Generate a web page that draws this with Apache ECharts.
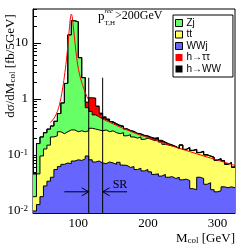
<!DOCTYPE html>
<html><head><meta charset="utf-8">
<script src="https://cdn.jsdelivr.net/npm/echarts@6/dist/echarts.min.js"></script>
<style>html,body{margin:0;padding:0;background:#fff}#c{width:248px;height:249px}</style>
</head><body><div id="c"></div>
<script>
// ---- data (fb / 5 GeV), 5 GeV bins, low edges ----
const binLow = [35,40,45,50,55,60,65,70,75,80,85,90,95,100,105,110,115,120,125,130,135,140,145,150,155,160,165,170,175,180,185,190,195,200,205,210,215,220,225,230,235,240,245,250,255,260,265,270,275,280,285,290,295,300,305,310,315,320];
const binWidth = 5;
const wwj = [0.010,0.013,0.018,0.028,0.034,0.040,0.055,0.062,0.068,0.072,
 0.070,0.078,0.082,0.080,0.085,0.096,0.082,0.075,0.078,0.072,
 0.070,0.075,0.072,0.068,0.074,0.066,0.065,0.060,0.062,0.055,
 0.058,0.052,0.055,0.050,0.045,0.046,0.042,0.045,0.040,0.041,
 0.038,0.040,0.036,0.037,0.035,0.025,0.024,0.040,0.038,0.030,
 0.032,0.024,0.022,0.023,0.027,0.026,0.027,0.026];
const ttbar = [0.008,0.033,0.078,0.100,0.116,0.170,0.165,0.198,0.172,0.188,
 0.210,0.202,0.178,0.190,0.175,0.174,0.218,0.215,0.202,0.198,
 0.210,0.185,0.198,0.182,0.166,0.184,0.155,0.170,0.148,0.145,
 0.152,0.138,0.145,0.140,0.135,0.144,0.128,0.110,0.110,0.104,
 0.102,0.090,0.114,0.088,0.100,0.095,0.101,0.070,0.077,0.070,
 0.063,0.066,0.058,0.062,0.051,0.042,0.045,0.034];
const zj = [0.028,0.114,0.114,0.122,0.14,0.12,0.18,0.29,0.61,1.64,
 13.7,24.7,23.7,5.2,2.14,0.43,0.30,0.23,0.20,0.18,
 0.15,0.14,0.11,0.10,0.09,0.07,0.07,0.04,0.05,0.04,
 0.025,0.03,0.015,0.01,0.01,0.005,0.005,0.01,0.005,0.003,
 0.002,0.002,0.001,0.001,0.001,0.001,0.001,0.001,0.001,0.001,
 0.001,0.001,0.001,0.001,0.001,0.001,0.001,0.001];
const hTauTau = [0,0,0,0,0,0,0,0,0,0,
 0,0,0,0,0.02,0.18,0.45,0.50,0.24,0.08,
 0.03,0.02,0,0,0,0,0,0,0,0,
 0,0,0,0,0,0,0,0,0,0,
 0,0,0,0,0,0,0,0,0,0,
 0,0,0,0,0,0,0,0];
const hWW = [0,0,0,0,0,0,0,0,0,0,
 0,0,0,0,0,0,0,0.02,0.03,0.03,
 0.02,0.02,0.015,0.015,0.01,0.01,0.005,0.005,0.005,0.005,
 0.005,0.005,0.005,0.008,0.01,0.01,0.008,0.005,0.004,0.004,
 0,0,0,0,0,0,0,0,0,0,
 0,0,0,0,0,0,0,0];
const fitX = [60,65,70,74,77,80,83,85,87,89,90,91.5,93,95,97,99,102,106,110,115,120,125,130,140,150,160,170,180,190,200,210,220,230,240,250,260,270,280,290,300,310,320,325];
const fitY = [0.38,0.45,0.6,0.9,1.4,2.5,5,9,17,30,33,28,19,11,6.5,4.2,2.7,1.8,1.3,0.95,0.75,0.6,0.48,0.41,0.36,0.315,0.28,0.25,0.225,0.205,0.185,0.167,0.152,0.138,0.126,0.115,0.105,0.096,0.088,0.081,0.074,0.068,0.065];
const xRange = [35, 325];
const yRange = [0.0092, 40.5];
const xMajorTicks = [100,200,300];
const xMinorTicks = [40,60,80,120,140,160,180,220,240,260,280,320];
const yMajorTicks = [0.01,0.1,1,10];
const yMinorTicks = [0.02,0.03,0.04,0.05,0.06,0.07,0.08,0.09,0.2,0.3,0.4,0.5,0.6,0.7,0.8,0.9,2,3,4,5,6,7,8,9,20,30,40];
const srEdges = [115, 135];
const srLineTop = 2.4;
const arrowLevel = 0.022;
const arrowTails = [80, 170];
const names = {zj:'Zj', tt:'tt', wwj:'WWj', htt:'h→ττ', hww:'h→WW'};
const colors = {zj:'#66ff66', tt:'#ffff66', wwj:'#6666ff', htt:'#ff0000', hww:'#000000'};

const serif = '"Liberation Serif", "Times New Roman", serif';
const sans = '"Liberation Sans", Arial, sans-serif';

// stacked (cumulative) heights, bottom to top
const stackOrder = [['wwj', wwj], ['tt', ttbar], ['zj', zj], ['htt', hTauTau], ['hww', hWW]];
const cumulative = {};
(function(){
  let run = binLow.map(()=>0);
  stackOrder.forEach(function(p){
    run = run.map((v,i)=>v + p[1][i]);
    cumulative[p[0]] = run.slice();
  });
})();

function steps(vals){
  const pts = binLow.map((x,i)=>[x, vals[i]]);
  pts.push([binLow[binLow.length-1]+binWidth, vals[vals.length-1]]);
  return pts;
}
function histSeries(key, outline, z){
  return {
    name: names[key], type:'line', step:'end', symbol:'none',
    data: steps(cumulative[key]), z:z,
    itemStyle:{color: colors[key]},
    lineStyle:{color: '#000', width: outline ? 1 : 0},
    areaStyle:{color: colors[key], opacity:1, origin:'start'},
    emphasis:{disabled:true}
  };
}

const chart = echarts.init(document.getElementById('c'), null, {renderer:'canvas'});
const option = {
  animation:false,
  grid:{left:33, right:13, top:9, bottom:36, show:true, borderColor:'#000', borderWidth:1, backgroundColor:'transparent'},
  xAxis:[{
    type:'value', min:xRange[0], max:xRange[1],
    axisLine:{show:true, lineStyle:{color:'#000', width:1}},
    axisTick:{show:true, inside:true, length:6, customValues:xMajorTicks, lineStyle:{color:'#000'}},
    axisLabel:{show:true, customValues:xMajorTicks, margin:4, color:'#000', fontFamily:serif, fontSize:13},
    splitLine:{show:false}
  },{
    type:'value', min:xRange[0], max:xRange[1], position:'bottom',
    axisLine:{show:false},
    axisTick:{show:true, inside:true, length:3, customValues:xMinorTicks, lineStyle:{color:'#000'}},
    axisLabel:{show:false}, splitLine:{show:false}
  }],
  yAxis:[{
    type:'log', logBase:10, min:yRange[0], max:yRange[1], position:'left',
    axisLine:{show:true, lineStyle:{color:'#000', width:1}},
    axisTick:{show:true, inside:true, length:8, customValues:yMajorTicks, lineStyle:{color:'#000'}},
    axisLabel:{show:true, customValues:yMajorTicks, margin:5, color:'#000', fontFamily:serif, fontSize:13,
      formatter:function(v){
        const e = Math.round(Math.log10(v));
        if (e === 0) return '{b|1}';
        if (e === 1) return '{b|10}';
        return '{b|10}{s|' + e + '}';
      },
      rich:{b:{fontFamily:serif, fontSize:13, color:'#000'}, s:{fontFamily:serif, fontSize:9, color:'#000', verticalAlign:'top', lineHeight:9, padding:[0,0,6,0]}}
    },
    splitLine:{show:false}, minorTick:{show:false}
  },{
    type:'log', logBase:10, min:yRange[0], max:yRange[1], position:'left',
    axisLine:{show:false},
    axisTick:{show:true, inside:true, length:4, customValues:yMinorTicks, lineStyle:{color:'#000'}},
    axisLabel:{show:false}, splitLine:{show:false}
  }],
  legend:{
    data:[
      {name:names.zj, itemStyle:{color:colors.zj, borderColor:'#000', borderWidth:1}},
      {name:names.tt, itemStyle:{color:colors.tt, borderColor:'#000', borderWidth:1}},
      {name:names.wwj, itemStyle:{color:colors.wwj, borderColor:'#000', borderWidth:1}},
      {name:names.htt, itemStyle:{color:colors.htt, borderWidth:0}},
      {name:names.hww, itemStyle:{color:colors.hww, borderWidth:0}}
    ],
    orient:'vertical', left:173, top:15, icon:'rect', itemWidth:7, itemHeight:7, itemGap:1.5,
    backgroundColor:'#fff', borderColor:'#000', borderWidth:1, borderRadius:0, padding:[3,12,3,2],
    textStyle:{fontFamily:sans, fontSize:10, color:'#000', lineHeight:10, padding:[0,0,0,-1]},
    selectedMode:false
  },
  series:[
    histSeries('hww', true, 2),
    histSeries('htt', false, 2),
    histSeries('zj', true, 2),
    histSeries('tt', true, 2),
    histSeries('wwj', true, 2),
    {
      name:'fit', type:'line', symbol:'none', smooth:0.4, z:3,
      data: fitX.map((x,i)=>[x, fitY[i]]),
      lineStyle:{color:'#ff0000', width:1}, emphasis:{disabled:true}
    },
    {
      name:'SR', type:'custom', z:4, clip:false,
      data:[[srEdges[0], arrowLevel]],
      renderItem:function(params, api){
        const ch = [];
        srEdges.forEach(function(x){
          const a = api.coord([x, yRange[0]]), b = api.coord([x, srLineTop]);
          ch.push({type:'line', shape:{x1:a[0], y1:a[1], x2:b[0], y2:b[1]}, style:{stroke:'#000', lineWidth:1}});
        });
        const l0 = api.coord([arrowTails[0], arrowLevel]), l1 = api.coord([srEdges[0], arrowLevel]);
        ch.push({type:'line', shape:{x1:l0[0], y1:l0[1], x2:l1[0], y2:l1[1]}, style:{stroke:'#000', lineWidth:1}});
        ch.push({type:'polyline', shape:{points:[[l1[0]-7,l1[1]-4],[l1[0],l1[1]],[l1[0]-7,l1[1]+4]]}, style:{stroke:'#000', fill:null, lineWidth:1}});
        const r0 = api.coord([arrowTails[1], arrowLevel]), r1 = api.coord([srEdges[1], arrowLevel]);
        ch.push({type:'line', shape:{x1:r0[0], y1:r0[1], x2:r1[0], y2:r1[1]}, style:{stroke:'#000', lineWidth:1}});
        ch.push({type:'polyline', shape:{points:[[r1[0]+7,r1[1]-4],[r1[0],r1[1]],[r1[0]+7,r1[1]+4]]}, style:{stroke:'#000', fill:null, lineWidth:1}});
        ch.push({type:'text', style:{text:'SR', x:r1[0]+10, y:r1[1]-1, font:'12px ' + serif, fill:'#000', align:'left', verticalAlign:'bottom'}});
        return {type:'group', children:ch};
      }
    }
  ],
  graphic:[
    {type:'text', x:98, y:17, style:{text:'p', font:'13px ' + serif, fill:'#000', verticalAlign:'middle'}},
    {type:'text', x:104.5, y:11, style:{text:'rec', font:'italic 7px ' + serif, fill:'#000', verticalAlign:'middle'}},
    {type:'text', x:104.5, y:23, style:{text:'T,H', font:'7px ' + serif, fill:'#000', verticalAlign:'middle'}},
    {type:'text', x:115, y:16, style:{text:'>200GeV', font:'12px ' + serif, fill:'#000', verticalAlign:'middle'}},
    {type:'text', x:11, y:66, rotation:Math.PI/2, style:{
      text:'{a|dσ/dM}{s|col}{a| [fb/5GeV]}', align:'center', verticalAlign:'middle',
      rich:{a:{fontFamily:serif, fontSize:13, color:'#000'}, s:{fontFamily:serif, fontSize:9, color:'#000', verticalAlign:'bottom', padding:[4,0,0,0]}}
    }},
    {type:'text', x:235, y:239, style:{
      text:'{a|M}{s|col}{a| [GeV]}', align:'right', verticalAlign:'middle',
      rich:{a:{fontFamily:serif, fontSize:13, color:'#000'}, s:{fontFamily:serif, fontSize:9, color:'#000', verticalAlign:'bottom', padding:[4,0,0,0]}}
    }}
  ]
};
chart.setOption(option);
</script></body></html>
